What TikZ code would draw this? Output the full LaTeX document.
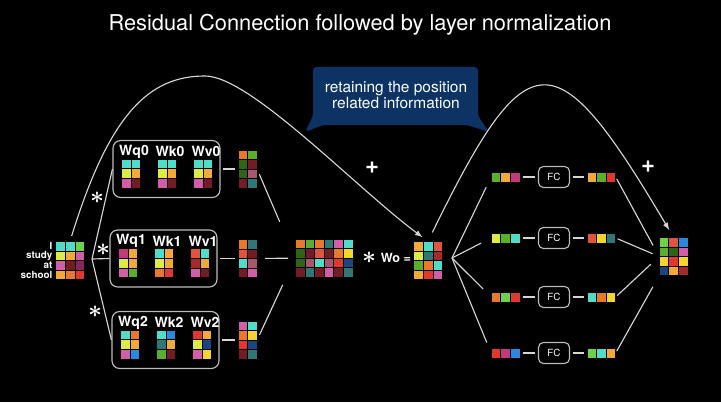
\documentclass[tikz,border=0pt]{standalone}
\usepackage{fontspec}
\setmainfont{TeX Gyre Heros}
\usetikzlibrary{positioning}

\definecolor{CY}{HTML}{4FDCC8}
\definecolor{GR}{HTML}{5AB02C}
\definecolor{LG}{HTML}{6CD24A}
\definecolor{YG}{HTML}{DDEB45}
\definecolor{OR}{HTML}{F3A937}
\definecolor{OG}{HTML}{E8792C}
\definecolor{PK}{HTML}{D35EA8}
\definecolor{MG}{HTML}{C23A7E}
\definecolor{DR}{HTML}{731C26}
\definecolor{PU}{HTML}{86275A}
\definecolor{RD}{HTML}{E2372F}
\definecolor{RS}{HTML}{E0533E}
\definecolor{BR}{HTML}{A52A2A}
\definecolor{DG}{HTML}{2E6414}
\definecolor{TL}{HTML}{2F7775}
\definecolor{MP}{HTML}{A8566E}
\definecolor{BL}{HTML}{2A88E0}
\definecolor{NV}{HTML}{1B4584}
\definecolor{YE}{HTML}{F4D52E}
\definecolor{lineg}{HTML}{D6D6D6}
\definecolor{boxg}{HTML}{BDBDBD}
\definecolor{callout}{HTML}{0D3264}

% paint the cells of a block node, row by row, from its top left corner
\newcommand{\cellfill}[2]{%
  \begin{scope}[shift={(#1.north west)}]
    \foreach \rw [count=\ii from 0] in {#2}
      \foreach \cl [count=\jj from 0] in \rw
        \filldraw[fill=\cl, draw=black, line width=0.3pt]
          (\jj*9.6,-\ii*9.6) rectangle ++(9.6,-9.6);
  \end{scope}}

\begin{document}
\begin{tikzpicture}[x=0.025cm, y=0.025cm, >=latex,
  every node/.style={text=white},
  link/.style={draw=lineg, line width=0.8pt},
  blk/.style 2 args={minimum width=#1*0.24cm, minimum height=#2*0.24cm, inner sep=0pt, outer sep=0pt},
  head/.style={draw=boxg, line width=0.8pt, rounded corners=5.5pt, minimum width=2.675cm, minimum height=1.425cm},
  fcbox/.style={draw=boxg, line width=0.8pt, rounded corners=3.5pt, minimum width=0.775cm, minimum height=0.525cm, inner sep=0pt, font=\fontsize{7}{8}\selectfont},
  wlab/.style={font=\bfseries\fontsize{10}{12}\selectfont, inner sep=0pt},
  word/.style={font=\bfseries\fontsize{7}{8}\selectfont, anchor=east, inner sep=0pt},
  mul/.style={font=\LARGE\boldmath, inner sep=0pt},
  addsign/.style={font=\bfseries\fontsize{17}{17}\selectfont, inner sep=0pt}]

\useasboundingbox (0,0) rectangle (721,402);
\fill[black] (0,0) rectangle (721,402);

\node[font=\fontsize{15.5}{18}\selectfont] (title) at (360,377) {Residual Connection followed by layer normalization};

% callout
\fill[callout, rounded corners=2.5pt] (305,270) -- (313,286) -- (313,335) -- (478,335) -- (478,286) -- (489,270) -- (467,277) -- (323,277) -- cycle;
\node[align=center, font=\fontsize{11}{12}\selectfont] (note) at (396,307) {retaining the position\\related information};

% input words
\node[blk={3}{4}] (inp) at (70,141.5) {};
\cellfill{inp}{{CY,CY,LG},{YG,OR,PK},{PK,DR,PU},{OR,OG,RD}}
\foreach \w [count=\k from 0] in {I,study,at,school}
  \node[word] (w\k) at ([shift={(-3,-4.8-9.6*\k)}]inp.north west) {\w};

% attention heads
\node[head] (h0) at (166.5,233) {};
\node[head] (h1) at (163.5,143.5) {};
\node[head] (h2) at (165.5,62) {};
\foreach \h in {0,1,2} {
  \node[blk={2}{3}] (wq\h) at ([shift={(-35.5,-4.5)}]h\h.center) {};
  \node[blk={2}{3}] (wk\h) at ([shift={(0.5,-4.5)}]h\h.center) {};
  \node[blk={2}{3}] (wv\h) at ([shift={(36.5,-4.5)}]h\h.center) {};
  \node[wlab] (lq\h) at ([shift={(-32.5,17.5)}]h\h.center) {Wq\h};
  \node[wlab] (lk\h) at ([shift={(3.5,17.5)}]h\h.center) {Wk\h};
  \node[wlab] (lv\h) at ([shift={(39.5,17.5)}]h\h.center) {Wv\h};
}
\cellfill{wq0}{{CY,CY},{YG,OR},{PK,DR}}
\cellfill{wk0}{{CY,CY},{YG,OR},{PK,DR}}
\cellfill{wv0}{{CY,CY},{YG,OR},{PK,DR}}
\cellfill{wq1}{{MG,OR},{YG,OR},{PK,GR}}
\cellfill{wk1}{{CY,OR},{YG,OR},{OG,RD}}
\cellfill{wv1}{{RS,CY},{BR,OR},{PK,DR}}
\cellfill{wq2}{{CY,OG},{YG,OR},{PK,BL}}
\cellfill{wk2}{{CY,BL},{TL,OR},{GR,DR}}
\cellfill{wv2}{{RD,OR},{YG,NV},{PK,YE}}

\coordinate (fork) at (92,143);
\foreach \h in {0,1,2}
  \draw[link] (fork) -- (h\h.west);
\node[mul] (s0) at (97,204) {$\ast$};
\node[mul] (s1) at (103,152) {$\ast$};
\node[mul] (s2) at (95,90) {$\ast$};

% head outputs
\node[blk={2}{4}] (o0) at (247.5,233) {};
\node[blk={2}{4}] (o1) at (247.5,143.5) {};
\node[blk={2}{4}] (o2) at (247.5,62) {};
\cellfill{o0}{{OG,GR},{DG,DR},{DG,MP},{DR,TL}}
\cellfill{o1}{{OG,TL},{RS,DR},{CY,MP},{DR,PK}}
\cellfill{o2}{{PK,CY},{OG,YE},{RD,NV},{DR,TL}}
\foreach \h in {0,1,2}
  \draw[link, shorten <=2pt, shorten >=2pt] (h\h) -- (o\h);

% concatenation times Wo
\node[blk={6}{4}] (cat) at (324,144) {};
\cellfill{cat}{{OG,GR,OG,TL,PK,CY},{DG,DR,RS,DR,OG,YE},{DG,MP,CY,MP,RD,NV},{DR,TL,DR,PK,DR,TL}}
\draw[link, shorten <=4pt, shorten >=28pt] (o0.east) -- (cat.west);
\draw[link, shorten <=5.5pt, shorten >=5pt] (o1) -- (cat);
\draw[link, shorten <=4pt, shorten >=21pt] (o2.east) -- (cat.west);
\node[mul] (s3) at (369,144) {$\ast$};
\node[wlab, font=\bfseries\fontsize{9}{11}\selectfont] (wolab) at (396,144) {Wo =};
\node[blk={3}{4}] (wo) at (428,141.5) {};
\cellfill{wo}{{OR,CY,RS},{YG,TL,BR},{GR,OG,CY},{OR,RD,PK}}

% position-wise feed forward
\coordinate (split) at (452,144);
\foreach \i/\yy in {0/225,1/164,2/105,3/49} {
  \node[blk={3}{1}] (rin\i) at (505.5,\yy) {};
  \node[fcbox, right=0.45cm of rin\i] (fc\i) {FC};
  \node[blk={3}{1}, right=0.42cm of fc\i] (rout\i) {};
  \draw[link, shorten <=2pt, shorten >=2pt] (rin\i) -- (fc\i);
  \draw[link, shorten <=2pt, shorten >=2pt] (fc\i) -- (rout\i);
  \draw[link, shorten >=8pt] (split) -- (rin\i.west);
}
\cellfill{rin0}{{GR,OR,MG}}
\cellfill{rout0}{{OR,GR,RD}}
\cellfill{rin1}{{YG,GR,CY}}
\cellfill{rout1}{{RS,YE,TL}}
\cellfill{rin2}{{OG,LG,RD}}
\cellfill{rout2}{{CY,OG,YE}}
\cellfill{rin3}{{RD,MG,BL}}
\cellfill{rout3}{{LG,CY,OR}}

\node[blk={3}{4}] (fin) at (673.5,145.5) {};
\cellfill{fin}{{LG,RS,BL},{GR,DG,PK},{YE,RD,YE},{NV,OR,BR}}
\draw[link, shorten <=1.5pt, shorten >=9pt] (rout0.east) -- (fin.west);
\draw[link, shorten <=1.5pt, shorten >=5pt] (rout1.east) -- (fin.west);
\draw[link, shorten <=1.5pt, shorten >=8pt] (rout2.east) -- (fin.west);
\draw[link, shorten <=1.5pt, shorten >=9pt] (rout3.east) -- (fin.south west);

% residual connections
\draw[link, ->, shorten <=4pt, shorten >=5pt] (inp.north) .. controls (110,290) and (150,326) .. (205,326) .. controls (250,326) and (355,215) .. (wo.north);
\draw[link, ->, shorten <=7pt, shorten >=6pt] (wo.north) .. controls (528,365) and (555,365) .. (fin.north);
\node[addsign] (p0) at (372,234) {+};
\node[addsign] (p1) at (648,235) {+};
\end{tikzpicture}
\end{document}
